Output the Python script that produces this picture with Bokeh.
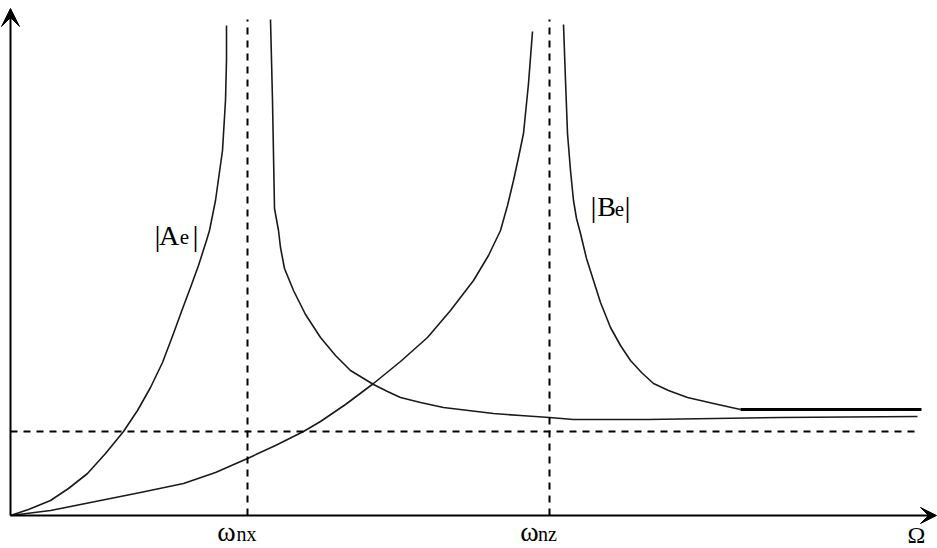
from bokeh.plotting import figure
from bokeh.models import Range1d, Arrow, VeeHead
from bokeh.core.properties import value
from bokeh.embed import file_html
from bokeh.resources import INLINE

# ---- data (chart units: x = Omega offset from origin, y = amplitude) ----
a_low_x = [0, 18, 40, 58, 77, 95, 113, 127, 140, 152, 163, 171, 180, 188, 196, 199, 205, 212, 215, 216, 216]
a_low_y = [0, 6, 15, 27, 42, 62, 84, 105, 128, 153, 182, 204, 228, 250, 275, 285, 315, 365, 415, 455, 490]

a_high_x = [260, 262, 264, 268, 270, 274, 283, 295, 310, 325, 340, 363, 377, 390, 410, 433, 458, 483, 510, 539, 563, 637, 770, 907]
a_high_y = [496, 415, 307, 285, 268, 247, 225, 201, 178, 160, 145, 131, 124, 118, 113, 108, 105, 102, 100, 98, 96, 96, 98, 99]

b_low_x = [0, 40, 90, 130, 173, 205, 237, 265, 293, 310, 335, 363, 390, 417, 440, 463, 478, 490, 497, 503, 508, 513, 518, 522]
b_low_y = [0, 5, 15, 23, 32, 43, 57, 70, 84, 94, 111, 132, 154, 178, 205, 235, 260, 285, 310, 335, 358, 382, 432, 484]

b_high_x = [553, 555, 557, 560, 563, 566, 570, 576, 583, 590, 600, 610, 620, 631, 643, 658, 677, 703, 730]
b_high_y = [491, 435, 382, 345, 315, 297, 282, 257, 235, 213, 188, 170, 155, 143, 132, 125, 118, 112, 106]

b_tail_x = [730, 911]
b_tail_y = [106, 106]

omega_nx = 237
omega_nz = 539
asymptote_level = 84
x_end = 909
dash_top = 496

p = figure(width=937, height=548, output_backend="svg", toolbar_location=None,
           x_range=Range1d(-10, 927), y_range=Range1d(-33, 515),
           x_axis_type=None, y_axis_type=None, min_border=0)
p.grid.visible = False
p.outline_line_color = None
p.background_fill_color = "white"
p.border_fill_color = "white"

curve_col = "#1a1a1a"
for xs, ys in [(a_low_x, a_low_y), (a_high_x, a_high_y), (b_low_x, b_low_y), (b_high_x, b_high_y)]:
    p.line(xs, ys, line_color=curve_col, line_width=1.6, line_join="round")
p.line(b_tail_x, b_tail_y, line_color="black", line_width=3)

# dashed reference lines
p.line([omega_nx, omega_nx], [0, dash_top], line_color="black", line_width=2, line_dash="7 6")
p.line([omega_nz, omega_nz], [0, dash_top], line_color="black", line_width=2, line_dash="7 6")
p.line([0, x_end], [asymptote_level, asymptote_level], line_color="black", line_width=2, line_dash="7 6")

# axes with arrows
p.add_layout(Arrow(end=VeeHead(size=16, fill_color="black", line_color="black", line_width=1),
                   x_start=0, y_start=0, x_end=926, y_end=0, line_width=2, line_color="black"))
p.add_layout(Arrow(end=VeeHead(size=18, fill_color="black", line_color="black", line_width=1),
                   x_start=0, y_start=0, x_end=0, y_end=507, line_width=2, line_color="black"))

serif = value("Liberation Serif")

def txt(x, y, s, size):
    p.text(x=[x], y=[y], text=[s], text_font=serif, text_font_size=value(f"{size}px"),
           text_color="black", text_align="center", text_baseline="alphabetic")

# |A_e|
txt(147, 280, "|", 30)
txt(158.5, 280, "A", 28)
txt(174, 279, "e", 21)
txt(185, 280, "|", 30)
# |B_e|
txt(583, 309, "|", 30)
txt(596, 309, "B", 28)
txt(609, 307, "e", 21)
txt(617, 309, "|", 30)
# omega labels
txt(216, -16, "ω", 28)
txt(236, -18, "nx", 20)
txt(519, -16, "ω", 28)
txt(537, -18, "nz", 20)
txt(906, -19, "Ω", 24)

open("out.html", "w").write(file_html(p, INLINE))
